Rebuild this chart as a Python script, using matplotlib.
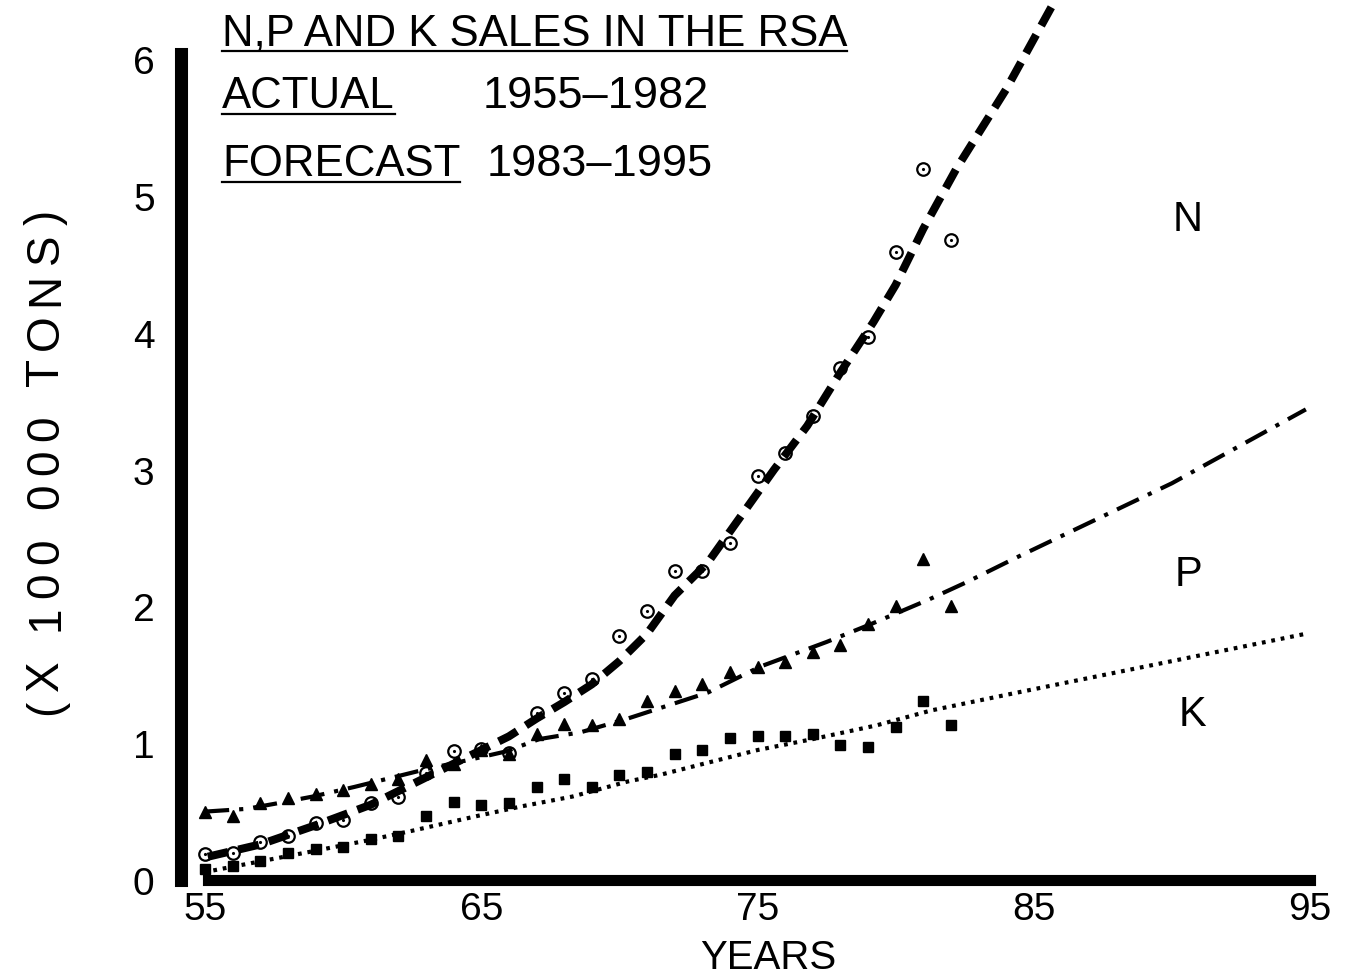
import matplotlib
matplotlib.use("Agg")
import matplotlib.pyplot as plt
from matplotlib.lines import Line2D
from matplotlib import font_manager, ft2font

# actual sales 1955-1982 (x 100 000 tons)
years = list(range(55, 83))
n_actual = [0.19, 0.20, 0.28, 0.32, 0.42, 0.44, 0.56, 0.61, 0.78, 0.94,
            0.96, 0.93, 1.22, 1.37, 1.47, 1.78, 1.97, 2.26, 2.26, 2.46,
            2.95, 3.12, 3.39, 3.74, 3.97, 4.59, 5.20, 4.68]
p_actual = [0.50, 0.47, 0.56, 0.60, 0.63, 0.66, 0.70, 0.74, 0.88, 0.85,
            0.95, 0.92, 1.07, 1.14, 1.13, 1.18, 1.31, 1.38, 1.43, 1.52,
            1.56, 1.59, 1.67, 1.72, 1.87, 2.00, 2.35, 2.00]
k_actual = [0.08, 0.10, 0.14, 0.20, 0.23, 0.24, 0.30, 0.32, 0.47, 0.57,
            0.55, 0.56, 0.68, 0.74, 0.68, 0.77, 0.79, 0.92, 0.95, 1.04,
            1.05, 1.05, 1.07, 0.99, 0.97, 1.12, 1.31, 1.13]

# fitted / forecast curves
n_fit_x = [55.1, 57, 59, 61, 63, 64, 65, 66, 67, 68, 69, 70, 71, 72, 73.2,
           74.4, 75.6, 76.8, 78, 79.2, 80, 81, 82.2, 84, 85.8, 86.5]
n_fit_y = [0.17, 0.26, 0.40, 0.55, 0.75, 0.85, 0.95, 1.05, 1.18, 1.30, 1.43,
           1.60, 1.80, 2.08, 2.32, 2.66, 3.00, 3.32, 3.71, 4.08, 4.35, 4.76,
           5.20, 5.78, 6.44, 6.70]
p_fit_x = [55, 56.5, 57.6, 58.9, 60.4, 61.8, 63, 64.6, 65.9, 67.1, 68.6, 70.3,
           73.2, 75.1, 77.5, 79.1, 81.2, 82.6, 84.3, 90, 94.85]
p_fit_y = [0.50, 0.52, 0.56, 0.61, 0.68, 0.75, 0.81, 0.88, 0.94, 1.03, 1.08,
           1.18, 1.37, 1.56, 1.74, 1.87, 2.05, 2.18, 2.35, 2.90, 3.44]
k_fit_x = [55.3, 57.1, 58.9, 60.9, 62.5, 64.9, 66.5, 68.3, 70.3, 71.5, 75,
           77, 79.3, 81.3, 84.4, 90, 94.85]
k_fit_y = [0.07, 0.14, 0.21, 0.29, 0.36, 0.47, 0.54, 0.61, 0.72, 0.77, 0.95,
           1.03, 1.13, 1.24, 1.37, 1.60, 1.80]

x_ticks = [55, 65, 75, 85, 95]
y_ticks = [0, 1, 2, 3, 4, 5, 6]

W, H = 1349, 978
FONT = "Liberation Sans"
plt.rcParams["font.family"] = [FONT, "DejaVu Sans"]


def fx(x):
    return x / W


def fy(y):
    return 1 - y / H


fig = plt.figure(figsize=(W / 100, H / 100), dpi=100)
ax = fig.add_axes([181 / W, (H - 881) / H, 1129 / W, 881 / H])
ax.set_xlim(54.13, 95)
ax.set_ylim(0, 6.44)
ax.patch.set_alpha(0)

# points
ax.plot(years, n_actual, "o", ms=9, mfc="white", mec="black", mew=1.6, zorder=3)
ax.plot(years, n_actual, ".", ms=2.5, color="black", zorder=4)
ax.plot(years, p_actual, "^", ms=8.5, color="black", zorder=3)
ax.plot(years, k_actual, "s", ms=7.2, color="black", zorder=3)

# curves
ax.plot(n_fit_x, n_fit_y, color="black", lw=5.8, linestyle=(0, (2.6, 1.3)),
        dash_capstyle="butt", zorder=5)
ax.plot(p_fit_x, p_fit_y, color="black", lw=3.0, linestyle=(0, (5.8, 2.4, 1.0, 2.4)),
        dash_capstyle="butt", zorder=5)
ax.plot(k_fit_x, k_fit_y, color="black", lw=3.0, linestyle=(0, (0.9, 1.4)),
        dash_capstyle="butt", zorder=5)

# heavy axes bars
for s in ["top", "right"]:
    ax.spines[s].set_visible(False)
ax.spines["left"].set_linewidth(9.4)
ax.spines["left"].set_bounds(0, 6.04)
ax.spines["bottom"].set_linewidth(8.0)
ax.spines["bottom"].set_bounds(55.1, 95)

ax.set_xticks(x_ticks)
ax.set_xticklabels([str(t) for t in x_ticks])
ax.set_yticks(y_ticks)
ax.set_yticklabels([str(t) for t in y_ticks])
ax.tick_params(axis="both", length=0, labelsize=28)
ax.tick_params(axis="y", pad=19)
ax.tick_params(axis="x", pad=8)

fig.text(fx(1188), fy(220), "N", fontsize=30, ha="center", va="center")
fig.text(fx(1188), fy(575), "P", fontsize=30, ha="center", va="center")
fig.text(fx(1192), fy(715), "K", fontsize=30, ha="center", va="center")

fig.text(fx(768), fy(958), "YEARS", fontsize=29, ha="center", va="center")

# y label: a little extra letter spacing, like the original lettering
ylabel = "(X 100 000 TONS)"
ysize = 33
ft = ft2font.FT2Font(font_manager.findfont(FONT))
ft.set_size(ysize, 100)
adv = [ft.load_char(ord(c)).linearHoriAdvance / 65536 for c in ylabel]
span = 505
extra = (span - sum(adv)) / (len(ylabel) - 1)
pos = 715
for c, a in zip(ylabel, adv):
    if c != " ":
        fig.text(fx(58), fy(pos), c, fontsize=ysize, rotation=90,
                 rotation_mode="anchor", ha="left", va="baseline")
    pos -= a + extra

t_title = fig.text(fx(222), fy(34), "N,P AND K SALES IN THE RSA", fontsize=31.5,
                   ha="left", va="center")
t_act = fig.text(fx(222), fy(97), "ACTUAL", fontsize=31.5, ha="left", va="center")
fig.text(fx(483), fy(97), "1955\u20131982", fontsize=32.5, ha="left", va="center")
t_fc = fig.text(fx(222), fy(165), "FORECAST", fontsize=31.5, ha="left", va="center")
fig.text(fx(487), fy(165), "1983\u20131995", fontsize=32.5, ha="left", va="center")

fig.canvas.draw()
r = fig.canvas.get_renderer()
for t in [t_title, t_act, t_fc]:
    bb = t.get_window_extent(r)
    y = bb.y0 + 3
    fig.add_artist(Line2D([bb.x0 / W, bb.x1 / W], [y / H, y / H],
                          transform=fig.transFigure, color="black", lw=1.6))

fig.savefig("out.png", dpi=100)
